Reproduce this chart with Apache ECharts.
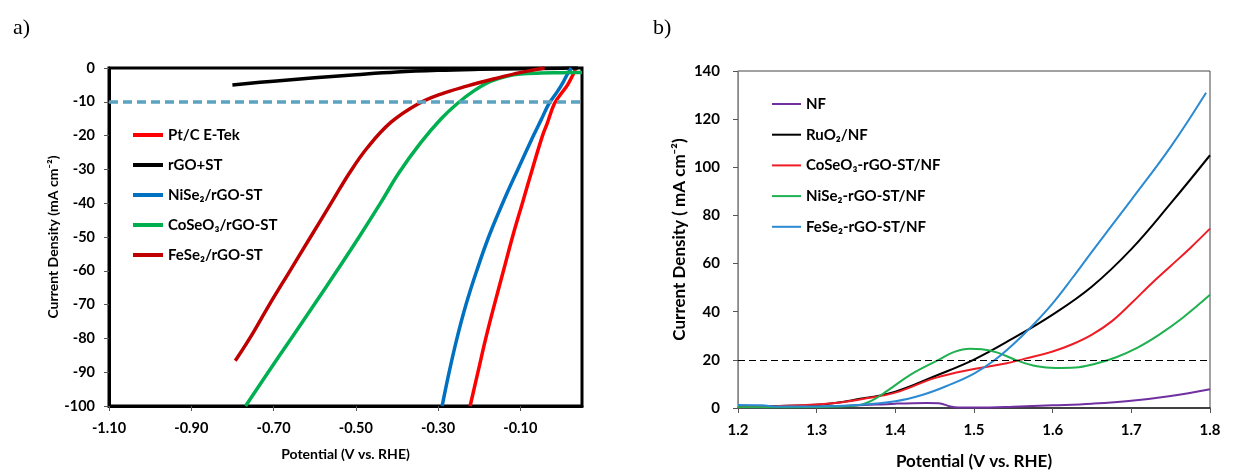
<!DOCTYPE html>
<html>
<head>
<meta charset="utf-8">
<script src="https://cdn.jsdelivr.net/npm/echarts@6/dist/echarts.min.js"></script>
<style>
  html, body { margin: 0; padding: 0; background: #fff; }
  #chart { width: 1238px; height: 475px; }
</style>
</head>
<body>
<div id="chart"></div>
<script>
// a) HER polarisation curves, [potential V, current mA cm-2]
var ptcData = [[0.034,-0.5],[0.028,-2],[0.015,-5],[0.0,-7.5],[-0.017,-10.5],[-0.035,-16.5],[-0.046,-20],[-0.071,-30],[-0.095,-40],[-0.119,-50],[-0.141,-60],[-0.163,-70],[-0.184,-80],[-0.203,-90],[-0.222,-100]];
var rgoData = [[-0.80,-5.0],[-0.70,-3.9],[-0.60,-2.9],[-0.50,-2.0],[-0.40,-1.2],[-0.30,-0.7],[-0.20,-0.4],[-0.10,-0.2],[0.0,-0.05],[0.04,0]];
var niseData = [[0.024,0],[0.016,-1.5],[0.005,-4],[-0.01,-7],[-0.03,-10.5],[-0.05,-15.5],[-0.068,-20],[-0.106,-30],[-0.143,-40],[-0.177,-50],[-0.206,-60],[-0.232,-70],[-0.254,-80],[-0.273,-90],[-0.29,-100]];
var coseData = [[0.05,-1.3],[0.0,-1.4],[-0.05,-1.5],[-0.10,-1.8],[-0.131,-2.4],[-0.171,-3.9],[-0.212,-6.7],[-0.253,-10.5],[-0.293,-15.1],[-0.342,-22.1],[-0.395,-31],[-0.44,-40],[-0.492,-50],[-0.546,-60],[-0.601,-70],[-0.657,-80],[-0.713,-90],[-0.768,-100]];
var feseData = [[-0.041,0],[-0.098,-1.3],[-0.163,-3.2],[-0.228,-5.3],[-0.293,-7.7],[-0.350,-10.7],[-0.415,-16.1],[-0.472,-23.6],[-0.515,-31],[-0.56,-40],[-0.61,-50],[-0.66,-60],[-0.71,-70],[-0.758,-80],[-0.793,-86.6]];

// b) OER curves
var nfData = [[1.2,0.3],[1.25,0.4],[1.3,0.6],[1.35,1.0],[1.4,1.8],[1.44,2.1],[1.455,2.0],[1.47,0.6],[1.48,0.2],[1.52,0.2],[1.55,0.5],[1.6,1.1],[1.65,1.8],[1.7,3.0],[1.75,5.0],[1.8,7.8]];
var ruo2Data = [[1.2,0.5],[1.25,0.8],[1.3,1.3],[1.35,3.5],[1.4,6.8],[1.45,13.2],[1.5,20.1],[1.55,29],[1.6,38.8],[1.65,50.5],[1.7,66],[1.75,85],[1.8,105]];
var coseNfData = [[1.2,0.3],[1.25,0.8],[1.3,1.5],[1.33,2.3],[1.36,3.8],[1.4,6.4],[1.45,12.4],[1.5,16.2],[1.54,18.5],[1.565,20.5],[1.6,23.5],[1.625,26.5],[1.65,30.5],[1.675,36],[1.7,43.5],[1.725,51.5],[1.75,59],[1.775,66.5],[1.8,74.5]];
var niseNfData = [[1.2,0.3],[1.3,0.4],[1.35,1.0],[1.37,3.1],[1.39,7.2],[1.42,14.0],[1.455,20.0],[1.475,23.3],[1.495,24.6],[1.51,24.4],[1.53,23.0],[1.555,19.7],[1.58,17.3],[1.604,16.6],[1.629,16.8],[1.652,18.2],[1.68,21],[1.708,25.1],[1.736,30.6],[1.765,37.4],[1.8,47]];
var feseNfData = [[1.2,1.2],[1.23,1.1],[1.25,0.6],[1.3,0.6],[1.35,1.2],[1.4,2.8],[1.435,5.5],[1.468,9.5],[1.5,14.3],[1.525,19.6],[1.55,26.5],[1.575,34.5],[1.6,43.5],[1.625,54],[1.65,65],[1.7,86.5],[1.75,108.5],[1.795,131]];

var namesA = ['Pt/C E-Tek', 'rGO+ST', 'NiSe₂/rGO-ST', 'CoSeO₃/rGO-ST', 'FeSe₂/rGO-ST'];
var namesB = ['NF', 'RuO₂/NF', 'CoSeO₃-rGO-ST/NF', 'NiSe₂-rGO-ST/NF', 'FeSe₂-rGO-ST/NF'];

var chart = echarts.init(document.getElementById('chart'));
var font = 'Lato, "Open Sans", sans-serif';

function lineA(name, data, color) {
    return { name: name, type: 'line', xAxisIndex: 0, yAxisIndex: 0, data: data,
        symbol: 'none', smooth: 0.4, color: color, lineStyle: { width: 3.5, color: color }, z: 3 };
}
function lineB(name, data, color) {
    return { name: name, type: 'line', xAxisIndex: 1, yAxisIndex: 1, data: data,
        symbol: 'none', smooth: 0.4, color: color, lineStyle: { width: 2, color: color }, z: 3 };
}

var series = [
    lineA(namesA[0], ptcData, '#ff0000'),
    lineA(namesA[1], rgoData, '#000000'),
    lineA(namesA[2], niseData, '#0070c0'),
    lineA(namesA[3], coseData, '#00b050'),
    lineA(namesA[4], feseData, '#c00000'),
    lineB(namesB[0], nfData, '#7030a0'),
    lineB(namesB[1], ruo2Data, '#000000'),
    lineB(namesB[2], coseNfData, '#ee1c24'),
    lineB(namesB[3], niseNfData, '#1fb050'),
    lineB(namesB[4], feseNfData, '#2b8ad2')
];
series[1].markLine = { silent: true, symbol: 'none', label: { show: false },
    lineStyle: { color: '#5ba3c0', width: 3.5, type: [9, 5] }, data: [{ yAxis: -10 }] };
series[6].markLine = { silent: true, symbol: 'none', label: { show: false },
    lineStyle: { color: '#000', width: 1, type: [7, 4] }, data: [{ yAxis: 20 }] };

var option = {
    animation: false,
    backgroundColor: '#fff',
    textStyle: { fontFamily: font },
    title: [
        { text: 'a)', left: 8, top: 12, textStyle: { fontFamily: '"Liberation Serif", serif', fontSize: 22, fontWeight: 'normal', color: '#000' } },
        { text: 'b)', left: 648, top: 12, textStyle: { fontFamily: '"Liberation Serif", serif', fontSize: 22, fontWeight: 'normal', color: '#000' } }
    ],
    legend: [
        { data: namesA, orient: 'vertical', left: 128, top: 122, icon: 'rect', itemWidth: 30, itemHeight: 4, itemGap: 14,
          textStyle: { fontFamily: font, fontSize: 15, fontWeight: 'bold', color: '#000', lineHeight: 16 } },
        { data: namesB, orient: 'vertical', left: 767, top: 91, icon: 'rect', itemWidth: 29, itemHeight: 2, itemGap: 14.7,
          textStyle: { fontFamily: font, fontSize: 15, fontWeight: 'bold', color: '#000', lineHeight: 16 } }
    ],
    grid: [
        { left: 109, top: 68, width: 473, height: 338, show: true, borderColor: '#000', borderWidth: 3, backgroundColor: '#fff' },
        { left: 738, top: 71, width: 472, height: 340, show: true, borderColor: '#444', borderWidth: 1, backgroundColor: '#fff' }
    ],
    xAxis: [
        { gridIndex: 0, type: 'value', min: -1.1, max: 0.05, interval: 0.2,
          name: 'Potential (V vs. RHE)', nameLocation: 'middle', nameGap: 41,
          nameTextStyle: { fontFamily: font, fontSize: 14, fontWeight: 'bold', color: '#000' },
          axisLine: { onZero: false, lineStyle: { color: '#000', width: 3 } },
          axisTick: { length: 5, lineStyle: { color: '#555' } },
          axisLabel: { showMaxLabel: false, margin: 15, fontSize: 14.5, fontWeight: 'bold', color: '#000',
              formatter: function (v) { return v.toFixed(2); } },
          splitLine: { show: false } },
        { gridIndex: 1, type: 'value', min: 1.2, max: 1.8, interval: 0.1,
          name: 'Potential (V vs. RHE)', nameLocation: 'middle', nameGap: 45,
          nameTextStyle: { fontFamily: font, fontSize: 17, fontWeight: 'bold', color: '#000' },
          axisLine: { onZero: false, lineStyle: { color: '#222', width: 1.5 } },
          axisTick: { length: 5, lineStyle: { color: '#555' } },
          axisLabel: { margin: 15, fontSize: 15, fontWeight: 'bold', color: '#000',
              formatter: function (v) { return v.toFixed(1); } },
          splitLine: { show: false } }
    ],
    yAxis: [
        { gridIndex: 0, type: 'value', min: -100, max: 0, interval: 10,
          name: 'Current Density (mA cm⁻²)', nameLocation: 'middle', nameGap: 49,
          nameTextStyle: { fontFamily: font, fontSize: 14, fontWeight: 'bold', color: '#000' },
          axisLine: { onZero: false, lineStyle: { color: '#000', width: 3 } },
          axisTick: { length: 5, lineStyle: { color: '#555' } },
          axisLabel: { margin: 14, fontSize: 14.5, fontWeight: 'bold', color: '#000' },
          splitLine: { show: false } },
        { gridIndex: 1, type: 'value', min: 0, max: 140, interval: 20,
          name: 'Current Density ( mA cm⁻²)', nameLocation: 'middle', nameGap: 50,
          nameTextStyle: { fontFamily: font, fontSize: 17, fontWeight: 'bold', color: '#000' },
          axisLine: { onZero: false, lineStyle: { color: '#888', width: 1 } },
          axisTick: { length: 5, lineStyle: { color: '#555' } },
          axisLabel: { margin: 18, fontSize: 15, fontWeight: 'bold', color: '#000' },
          splitLine: { show: false } }
    ],
    series: series
};
chart.setOption(option);
</script>
</body>
</html>
